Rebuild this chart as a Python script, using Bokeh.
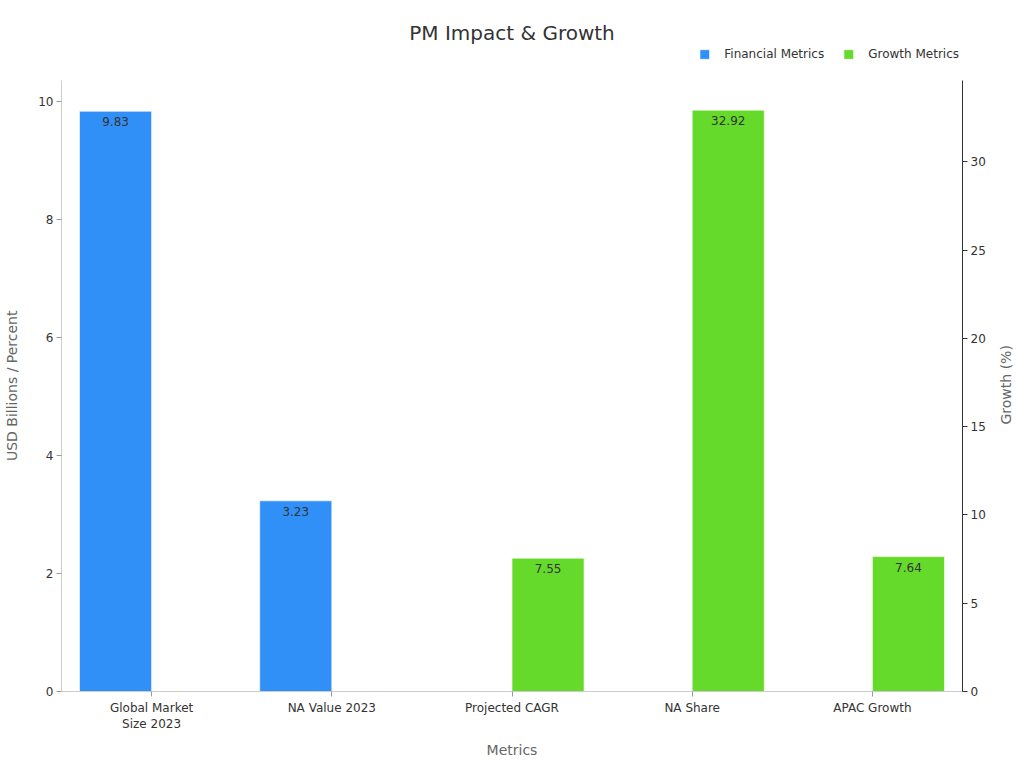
import math
from bokeh.plotting import figure
from bokeh.models import (ColumnDataSource, FactorRange, Range1d, LinearAxis, Legend, LegendItem,
                          SingleIntervalTicker, Title)
from bokeh.transform import dodge
from bokeh.embed import file_html
from bokeh.resources import INLINE
from bokeh.core.properties import value

# ---- data ----
categories = ["Global Market\nSize 2023", "NA Value 2023", "Projected CAGR", "NA Share", "APAC Growth"]
financial_values = [9.83, 3.23, None, None, None]   # USD Billions / Percent (left axis)
growth_values = [None, None, 7.55, 32.92, 7.64]     # Growth % (right axis)
series_names = ["Financial Metrics", "Growth Metrics"]
title_text = "PM Impact & Growth"
left_label = "USD Billions / Percent"
right_label = "Growth (%)"
x_label = "Metrics"

BLUE = "#3090f8"
GREEN = "#66da2a"
FONT = "DejaVu Sans"

fin_cats = [c for c, v in zip(categories, financial_values) if v is not None]
fin_vals = [v for v in financial_values if v is not None]
gro_cats = [c for c, v in zip(categories, growth_values) if v is not None]
gro_vals = [v for v in growth_values if v is not None]

fin_src = ColumnDataSource(dict(cat=fin_cats, val=fin_vals, lab=[f"{v:.2f}" for v in fin_vals]))
gro_src = ColumnDataSource(dict(cat=gro_cats, val=gro_vals, lab=[f"{v:.2f}" for v in gro_vals]))

# layout: frame spans y=TOP..691 in the page; axes (data area) span y=80..691
TOP, BOTTOM_B, H = 44, 77, 768
frame_h = H - TOP - BOTTOM_B
data_h = frame_h - (80 - TOP)
stretch = frame_h / data_h

left_max = max(fin_vals) * 1.053
right_max = max(gro_vals) * 1.051

p = figure(width=1024, height=H, x_range=FactorRange(*categories),
           y_range=Range1d(0, left_max * stretch), output_backend="svg", toolbar_location=None,
           min_border_left=61, min_border_right=61, min_border_bottom=BOTTOM_B, min_border_top=TOP)
p.extra_y_ranges = {"right": Range1d(0, right_max * stretch)}
p.outline_line_color = None
p.xgrid.grid_line_color = None
p.ygrid.grid_line_color = None
p.x_range.range_padding = 0.0

fin_r = p.vbar(x=dodge("cat", -0.2, range=p.x_range), top="val", width=0.4, source=fin_src,
               fill_color=BLUE, line_color="white", line_alpha=0.6)
gro_r = p.vbar(x=dodge("cat", 0.2, range=p.x_range), top="val", width=0.4, source=gro_src,
               fill_color=GREEN, line_color="white", line_alpha=0.6, y_range_name="right")

p.text(x=dodge("cat", -0.2, range=p.x_range), y="val", text="lab", source=fin_src,
       text_align="center", text_baseline="top", y_offset=6, text_font=value(FONT),
       text_font_size="12px", text_color="#333333")
p.text(x=dodge("cat", 0.2, range=p.x_range), y="val", text="lab", source=gro_src,
       text_align="center", text_baseline="top", y_offset=6, text_font=value(FONT),
       text_font_size="12px", text_color="#333333", y_range_name="right")

# the frame extends above the axes' data area; pad the vertical axis labels with
# non-breaking spaces so they sit centred on the data area
NBSP = "\u00a0"

# axes styling
xa = p.xaxis[0]
xa.axis_label = x_label
xa.axis_label_text_font = FONT
xa.axis_label_text_font_size = "14px"
xa.axis_label_text_font_style = "normal"
xa.axis_label_text_color = "#666666"
xa.axis_label_standoff = 8
xa.axis_line_color = "#cccccc"
xa.major_tick_line_color = "#999999"
xa.major_tick_out = 5
xa.major_tick_in = 0
xa.minor_tick_line_color = None
xa.major_label_text_font = FONT
xa.major_label_text_font_size = "12px"
xa.major_label_text_color = "#333333"
xa.major_label_standoff = 4

ya = p.yaxis[0]
ya.ticker = SingleIntervalTicker(interval=2)
ya.bounds = (0, left_max)
ya.axis_label = left_label + NBSP * 8
ya.axis_label_text_font = FONT
ya.axis_label_text_font_size = "14px"
ya.axis_label_text_font_style = "normal"
ya.axis_label_text_color = "#666666"
ya.axis_label_standoff = 15
ya.axis_line_color = "#cccccc"
ya.major_tick_line_color = "#999999"
ya.major_tick_out = 5
ya.major_tick_in = 0
ya.minor_tick_line_color = None
ya.major_label_text_font = FONT
ya.major_label_text_font_size = "12px"
ya.major_label_text_color = "#333333"
ya.major_label_standoff = 3

ra = LinearAxis(y_range_name="right", ticker=SingleIntervalTicker(interval=5), bounds=(0, right_max))
ra.axis_label = NBSP * 60 + right_label
ra.axis_label_orientation = math.pi / 2
ra.axis_label_align = "start"
ra.axis_label_text_font = FONT
ra.axis_label_text_font_size = "14px"
ra.axis_label_text_font_style = "normal"
ra.axis_label_text_color = "#666666"
ra.axis_label_standoff = 17
ra.axis_line_color = "#333333"
ra.major_tick_line_color = "#333333"
ra.major_tick_out = 5
ra.major_tick_in = 0
ra.minor_tick_line_color = None
ra.major_label_text_font = FONT
ra.major_label_text_font_size = "12px"
ra.major_label_text_color = "#333333"
ra.major_label_standoff = 3
p.add_layout(ra, "right")

legend = Legend(items=[LegendItem(label=series_names[0], renderers=[fin_r]),
                       LegendItem(label=series_names[1], renderers=[gro_r])],
                orientation="horizontal", location="top_right",
                glyph_width=12, glyph_height=12, label_standoff=14, spacing=18,
                padding=5, margin=3, border_line_color=None, background_fill_alpha=0,
                label_text_font=FONT, label_text_font_size="12px", label_text_color="#333333")
p.add_layout(legend)

p.title = Title(text=title_text, align="center", text_font=FONT, text_font_size="20px",
                text_font_style="normal", text_color="#333333", standoff=0)

open("out.html", "w").write(file_html(p, INLINE))
